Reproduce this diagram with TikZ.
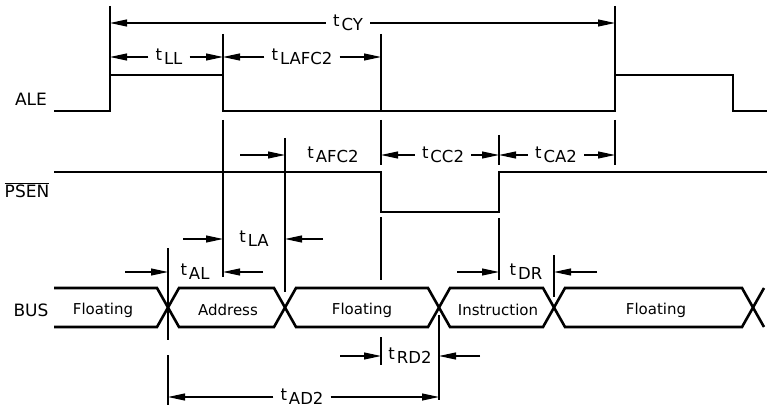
\documentclass[tikz,border=0pt]{standalone}
\usepackage{fontspec}
\setmainfont{DejaVu Sans}
\usetikzlibrary{arrows.meta}
\newcommand{\tsub}[1]{\raisebox{4pt}{t}\kern2pt#1}

\begin{document}
\begin{tikzpicture}[x=1pt,y=-1pt,
  sig/.style={line width=2.6pt,line join=miter},
  ext/.style={line width=1.1pt},
  dim/.style={line width=1.1pt,-{Triangle[length=17pt,width=7pt]}},
  lbl/.style={inner sep=7pt,font=\fontsize{16.5}{19}\selectfont},
  txt/.style={font=\fontsize{15}{18}\selectfont},
  signame/.style={font=\fontsize{17}{20}\selectfont}]
\useasboundingbox (0,0) rectangle (771,409);
% time marks
\coordinate (T1) at (110,0);
\coordinate (T2) at (223,0);
\coordinate (T3) at (381,0);
\coordinate (T4) at (499,0);
\coordinate (T5) at (615,0);
\coordinate (A1) at (168,0);
\coordinate (A2) at (285,0);
\coordinate (A3) at (439,0);
\coordinate (A4) at (554,0);
% signal names
\node[signame] (ale) at (31,99) {ALE};
\node[signame] (psen) at (27,190) {$\overline{\hbox{PSEN}}$};
\node[signame] (bus) at (31,310) {BUS};
% waveforms
\draw[sig] (54,111) -- (110,111) -- (110,75) -- (223,75) -- (223,111) -- (615,111) -- (615,75) -- (733,75) -- (733,111) -- (767,111);
\draw[sig] (54,172) -- (381,172) -- (381,212) -- (499,212) -- (499,172) -- (767,172);
\draw[sig] (54,288) -- (157,288) -- (179,327) -- (274,327) -- (296,288) -- (428,288) -- (450,327) -- (543,327) -- (565,288) -- (742,288) -- (764,327);
\draw[sig] (54,327) -- (157,327) -- (179,288) -- (274,288) -- (296,327) -- (428,327) -- (450,288) -- (543,288) -- (565,327) -- (742,327) -- (764,288);
\node[txt] (fl1) at (103,310) {Floating};
\node[txt] (addr) at (228,310) {Address};
\node[txt] (fl2) at (362,310) {Floating};
\node[txt] (instr) at (498,310) {Instruction};
\node[txt] (fl3) at (656,310) {Floating};
% extension lines
\draw[ext] (110,6) -- (110,75);
\draw[ext] (615,6) -- (615,75);
\draw[ext] (223,34) -- (223,75);
\draw[ext] (223,120) -- (223,277);
\draw[ext] (381,34) -- (381,111);
\draw[ext] (381,120) -- (381,165);
\draw[ext] (381,217) -- (381,280);
\draw[ext] (381,337) -- (381,365);
\draw[ext] (285,138) -- (285,292);
\draw[ext] (168,248) -- (168,340);
\draw[ext] (168,355) -- (168,405);
\draw[ext] (499,135) -- (499,165);
\draw[ext] (499,218) -- (499,280);
\draw[ext] (615,120) -- (615,165);
\draw[ext] (554,255) -- (554,297);
\draw[ext] (439,315) -- (439,400);
% timing labels
\node[lbl] (cy) at (348,23) {\tsub{CY}};
\node[lbl] (ll) at (169,57) {\tsub{LL}};
\node[lbl] (lafc) at (302,57) {\tsub{LAFC2}};
\node[lbl] (afc) at (333,155) {\tsub{AFC2}};
\node[lbl] (cc) at (443,155) {\tsub{CC2}};
\node[lbl] (ca) at (556,155) {\tsub{CA2}};
\node[lbl] (la) at (254,239) {\tsub{LA}};
\node[lbl] (al) at (195,272) {\tsub{AL}};
\node[lbl] (dr) at (526,272) {\tsub{DR}};
\node[lbl] (rd) at (410,356) {\tsub{RD2}};
\node[lbl] (ad) at (302,397) {\tsub{AD2}};
% dimension arrows
\draw[dim] (cy) -- (cy -| T1);
\draw[dim] (cy) -- (cy -| T5);
\draw[dim] (ll) -- (ll -| T1);
\draw[dim] (ll) -- (ll -| T2);
\draw[dim] (lafc) -- (lafc -| T2);
\draw[dim] (lafc) -- (lafc -| T3);
\draw[dim] (afc -| A2) ++(-45,0) -- (afc -| A2);
\draw[dim] (cc) -- (cc -| T3);
\draw[dim] (cc) -- (cc -| T4);
\draw[dim] (ca) -- (ca -| T4);
\draw[dim] (ca) -- (ca -| T5);
\draw[dim] (la -| T2) ++(-40,0) -- (la -| T2);
\draw[dim] (la -| A2) ++(38,0) -- (la -| A2);
\draw[dim] (al -| A1) ++(-43,0) -- (al -| A1);
\draw[dim] (al -| T2) ++(40,0) -- (al -| T2);
\draw[dim] (dr -| T4) ++(-42,0) -- (dr -| T4);
\draw[dim] (dr -| A4) ++(43,0) -- (dr -| A4);
\draw[dim] (rd -| T3) ++(-41,0) -- (rd -| T3);
\draw[dim] (rd -| A3) ++(41,0) -- (rd -| A3);
\draw[dim] (ad) -- (ad -| A1);
\draw[dim] (ad) -- (ad -| A3);
\end{tikzpicture}
\end{document}
